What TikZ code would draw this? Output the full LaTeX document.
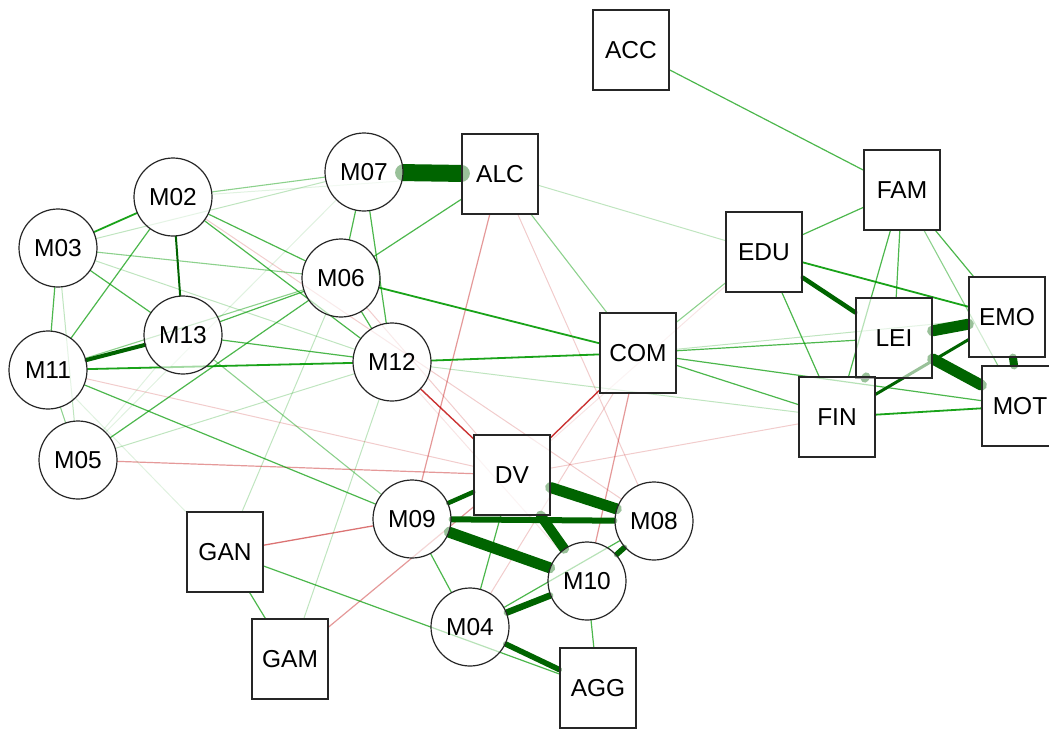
\documentclass[tikz,border=0pt]{standalone}
\usepackage{fontspec}
\newfontfamily\lbs{Liberation Sans}
\usetikzlibrary{backgrounds}
\definecolor{pg}{HTML}{009900}
\definecolor{dg}{RGB}{0,100,0}
\definecolor{ng}{HTML}{BF0000}
\newcommand\edg[3]{\draw[#1] (#2) -- (#3);}
\begin{document}
\begin{tikzpicture}[x=1pt,y=-1pt,
  base/.style={draw=black!85, line width=1.2pt, fill=white, fill opacity=0.6, text opacity=1, inner sep=0pt, font=\lbs\fontsize{24.5pt}{28pt}\selectfont},
  cn/.style={base, circle, minimum size=78pt},
  sn/.style={base, rectangle, minimum width=76pt, minimum height=80pt},
  ln/.style={line cap=round},
  tk/.style={ln, draw=dg, line width=#1},
  pA/.style={ln, draw=pg, line width=1.8pt, draw opacity=0.9},
  pB/.style={ln, draw=pg, line width=1.2pt, draw opacity=0.7},
  pC/.style={ln, draw=pg, line width=1.1pt, draw opacity=0.45},
  pD/.style={ln, draw=pg, line width=1pt, draw opacity=0.25},
  pE/.style={ln, draw=pg, line width=1pt, draw opacity=0.12},
  nA/.style={ln, draw=ng, line width=1.4pt, draw opacity=0.8},
  nA2/.style={ln, draw=ng, line width=1.3pt, draw opacity=0.55},
  nB/.style={ln, draw=ng, line width=1.2pt, draw opacity=0.4},
  nC/.style={ln, draw=ng, line width=1pt, draw opacity=0.2},
  nD/.style={ln, draw=ng, line width=1pt, draw opacity=0.1}]
\useasboundingbox (0,0) rectangle (1049,729);
% circles
\node[cn] (M02) at (173,197) {M02};
\node[cn] (M03) at (58,248) {M03};
\node[cn] (M05) at (78,460) {M05};
\node[cn] (M06) at (341,278) {M06};
\node[cn] (M07) at (364,172) {M07};
\node[cn] (M11) at (48,370) {M11};
\node[cn] (M12) at (392,362) {M12};
\node[cn] (M13) at (183,335) {M13};
\node[cn] (M09) at (412,519) {M09};
\node[cn] (M08) at (654,521) {M08};
\node[cn] (M10) at (587,581) {M10};
\node[cn] (M04) at (470,627) {M04};
% squares
\node[sn] (ACC) at (631,50) {ACC};
\node[sn] (ALC) at (500,174) {ALC};
\node[sn] (FAM) at (902,190) {FAM};
\node[sn] (EDU) at (764,252) {EDU};
\node[sn] (LEI) at (894,338) {LEI};
\node[sn] (EMO) at (1007,317) {EMO};
\node[sn] (MOT) at (1020,406) {MOT};
\node[sn] (FIN) at (837,417) {FIN};
\node[sn] (COM) at (638,353) {COM};
\node[sn] (DV) at (512,475) {DV};
\node[sn] (GAN) at (225,552) {GAN};
\node[sn] (GAM) at (290,659) {GAM};
\node[sn] (AGG) at (598,688) {AGG};
\begin{pgfonlayer}{background}
\fill[white] (0,0) rectangle (1049,729);
% faint
\edg{pE}{M02}{ALC}\edg{pE}{M05}{M07}\edg{pE}{M11}{GAN}\edg{pE}{M05}{M13}
\edg{nD}{DV}{EDU}\edg{nD}{M12}{M10}
\edg{pD}{M03}{M07}\edg{pD}{M03}{M12}\edg{pD}{M05}{M12}\edg{pD}{GAN}{M06}
\edg{pD}{GAM}{M12}\edg{pD}{M12}{FIN}\edg{pD}{ALC}{EDU}\edg{pD}{COM}{EMO}\edg{pD}{M03}{M05}
\edg{nC}{M11}{DV}\edg{nC}{ALC}{M08}\edg{nC}{COM}{M04}\edg{nC}{FIN}{DV}\edg{nC}{M06}{DV}\edg{nC}{M02}{M08}
\edg{pC}{M02}{M07}\edg{pC}{M03}{M06}\edg{pC}{M11}{M06}\edg{pC}{M13}{M09}
\edg{pC}{ALC}{COM}\edg{pC}{FAM}{MOT}\edg{pC}{COM}{EDU}\edg{pC}{M11}{M05}
\edg{nB}{GAM}{DV}\edg{nB}{ALC}{M09}\edg{nB}{COM}{M10}\edg{nB}{M05}{DV}
% medium
\edg{pB}{M03}{M11}\edg{pB}{M03}{M13}\edg{pB}{M02}{M11}\edg{pB}{M02}{M06}
\edg{pB}{M02}{M12}\edg{pB}{M13}{M12}\edg{pB}{M13}{M06}\edg{pB}{M06}{M07}
\edg{pB}{M07}{M12}\edg{pB}{M06}{M12}\edg{pB}{M05}{M06}\edg{pB}{M11}{M09}
\edg{pB}{GAN}{GAM}\edg{pB}{GAN}{AGG}\edg{pB}{M09}{M04}\edg{pB}{DV}{M04}
\edg{pB}{M04}{M08}\edg{pB}{M10}{AGG}\edg{pB}{ALC}{M06}\edg{pB}{ACC}{FAM}
\edg{pB}{FAM}{EDU}\edg{pB}{FAM}{LEI}\edg{pB}{FAM}{FIN}\edg{pB}{FAM}{EMO}
\edg{pB}{EDU}{FIN}\edg{pB}{COM}{LEI}\edg{pB}{COM}{MOT}\edg{pB}{COM}{FIN}
\edg{nA}{M12}{DV}\edg{nA}{COM}{DV}\edg{nA2}{GAN}{M09}
\edg{pA}{M11}{M12}\edg{pA}{M12}{COM}\edg{pA}{M06}{COM}\edg{pA}{EDU}{EMO}
\edg{pA}{FIN}{MOT}\edg{pA}{M02}{M03}
% strong
\edg{tk=2pt}{M02}{M13}
\edg{tk=4pt}{M11}{M13}
\edg{tk=3pt}{FIN}{EMO}
\edg{tk=4.5pt}{EDU}{LEI}
\edg{tk=8pt}{LEI}{FIN}
\edg{tk=8pt}{EMO}{MOT}
\edg{tk=11pt}{LEI}{EMO}
\edg{tk=11pt}{LEI}{MOT}
\edg{tk=4.5pt}{M09}{DV}
\edg{tk=5.5pt}{M08}{M10}
\edg{tk=5.5pt}{M04}{AGG}
\edg{tk=6.5pt}{M04}{M10}
\edg{tk=6pt}{M09}{M08}
\edg{tk=10pt}{DV}{M10}
\edg{tk=11pt}{M09}{M10}
\edg{tk=11pt}{DV}{M08}
\edg{tk=17pt}{M07}{ALC}
\end{pgfonlayer}
\end{tikzpicture}
\end{document}
